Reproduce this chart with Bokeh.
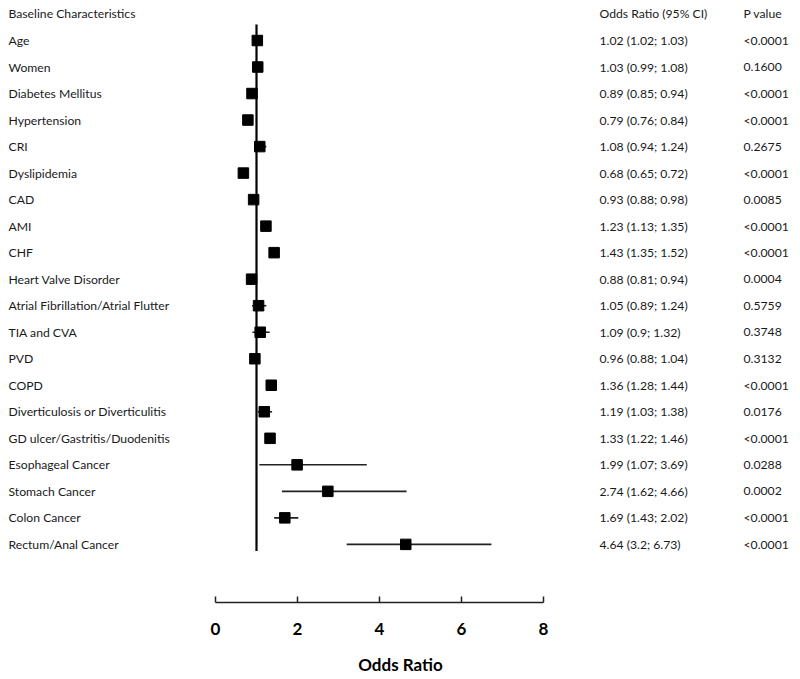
from bokeh.plotting import figure
from bokeh.models import Range1d, LinearAxis, FixedTicker, ColumnDataSource
from bokeh.core.properties import value
from bokeh.embed import file_html
from bokeh.resources import INLINE

characteristics = ["Age", "Women", "Diabetes Mellitus", "Hypertension", "CRI", "Dyslipidemia",
                   "CAD", "AMI", "CHF", "Heart Valve Disorder", "Atrial Fibrillation/Atrial Flutter",
                   "TIA and CVA", "PVD", "COPD", "Diverticulosis or Diverticulitis",
                   "GD ulcer/Gastritis/Duodenitis", "Esophageal Cancer", "Stomach Cancer",
                   "Colon Cancer", "Rectum/Anal Cancer"]
odds_ratio = [1.02, 1.03, 0.89, 0.79, 1.08, 0.68, 0.93, 1.23, 1.43, 0.88, 1.05, 1.09, 0.96,
              1.36, 1.19, 1.33, 1.99, 2.74, 1.69, 4.64]
ci_low = [1.02, 0.99, 0.85, 0.76, 0.94, 0.65, 0.88, 1.13, 1.35, 0.81, 0.89, 0.9, 0.88,
          1.28, 1.03, 1.22, 1.07, 1.62, 1.43, 3.2]
ci_high = [1.03, 1.08, 0.94, 0.84, 1.24, 0.72, 0.98, 1.35, 1.52, 0.94, 1.24, 1.32, 1.04,
           1.44, 1.38, 1.46, 3.69, 4.66, 2.02, 6.73]
p_values = ["<0.0001", "0.1600", "<0.0001", "<0.0001", "0.2675", "<0.0001", "0.0085", "<0.0001",
            "<0.0001", "0.0004", "0.5759", "0.3748", "0.3132", "<0.0001", "0.0176", "<0.0001",
            "0.0288", "0.0002", "<0.0001", "<0.0001"]
headers = ["Baseline Characteristics", "Odds Ratio (95% CI)", "P value"]
x_ticks = [0, 2, 4, 6, 8]
reference_or = 1

n = len(characteristics)
rows = list(range(n))
or_text = [f"{o} ({l}; {h})" for o, l, h in zip(odds_ratio, ci_low, ci_high)]

# layout in pixel terms
W, H = 800, 679
frame_h = 602
px_per_unit = 41.0
x0_px = 215.0  # pixel of OR=0 relative to figure left
row0_px = 40.0  # pixel of first row relative to figure top
row_step = 26.52

x_start = -x0_px / px_per_unit
x_end = (W - x0_px) / px_per_unit
y_top = -row0_px / row_step
y_bottom = (frame_h - row0_px) / row_step

FONT = "Lato"

p = figure(width=W, height=H, output_backend="svg", toolbar_location=None,
           x_range=Range1d(x_start, x_end), y_range=Range1d(y_bottom, y_top),
           min_border_left=0, min_border_right=0, min_border_top=0, min_border_bottom=H - frame_h,
           x_axis_location=None, y_axis_location=None)
p.outline_line_color = None
p.xgrid.visible = False
p.ygrid.visible = False
p.background_fill_color = "white"
p.border_fill_color = "white"

src = ColumnDataSource(dict(y=rows, label=characteristics, orv=odds_ratio, lo=ci_low, hi=ci_high,
                            ortext=or_text, pv=p_values))

# reference line
p.segment(x0=[reference_or], x1=[reference_or], y0=[-0.6], y1=[n + 0.25 - 1], line_color="black",
          line_width=2.2)

p.segment(x0="lo", x1="hi", y0="y", y1="y", source=src, line_color="#222222", line_width=1.6)
p.scatter(x="orv", y="y", source=src, marker="square", size=10.5, fill_color="black",
          line_color="black")

label_x = (8 - x0_px) / px_per_unit
or_col_x = (599 - x0_px) / px_per_unit
p_col_x = (743 - x0_px) / px_per_unit

tkw = dict(text_font=value(FONT), text_font_size="12.2px", text_baseline="middle",
           text_align="left", text_color="#1a1a1a")
p.text(x=label_x, y="y", text="label", source=src, **tkw)
p.text(x=or_col_x, y="y", text="ortext", source=src, **tkw)
p.text(x=p_col_x, y="y", text="pv", source=src, **tkw)
p.text(x=[label_x, or_col_x, p_col_x], y=[-1, -1, -1], text=headers, **tkw)

ax = LinearAxis(ticker=FixedTicker(ticks=x_ticks), bounds=(0, 8), axis_label="Odds Ratio")
ax.axis_line_width = 1.5
ax.axis_line_color = "#222222"
ax.major_tick_in = 6
ax.major_tick_out = 0
ax.major_tick_line_width = 1.5
ax.major_tick_line_color = "#222222"
ax.minor_tick_line_color = None
ax.major_label_text_font = FONT
ax.major_label_text_font_style = "bold"
ax.major_label_text_font_size = "17px"
ax.major_label_text_color = "black"
ax.major_label_standoff = 20
ax.axis_label_text_font = FONT
ax.axis_label_text_font_style = "bold"
ax.axis_label_text_font_size = "17px"
ax.axis_label_text_color = "black"
ax.axis_label_standoff = 16
p.add_layout(ax, "below")

open("out.html", "w").write(file_html(p, INLINE))
